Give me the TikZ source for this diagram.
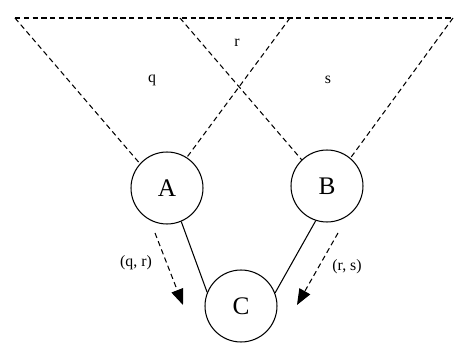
\documentclass[tikz,border=0pt]{standalone}
\usepackage{fontspec}
\setmainfont{Liberation Serif}
\usetikzlibrary{arrows.meta}
\begin{document}
\begin{tikzpicture}[
      x=0.02cm, y=-0.02cm,
      every node/.style={font=\small},
      agent/.style={draw, circle, minimum size=1.44cm, inner sep=0pt,
        font=\Large, line width=0.6pt},
      field/.style={dashed, dash pattern=on 3pt off 2pt, line width=0.6pt},
      link/.style={line width=0.6pt},
      pass/.style={dashed, dash pattern=on 3pt off 2pt, line width=0.6pt,
        -{Triangle[length=9pt,width=7pt]}},
    ]
    \useasboundingbox (0,0) rectangle (454,344);
    \node[agent] (A) at (167, 188) {A};
    \node[agent] (B) at (327, 186) {B};
    \node[agent] (C) at (241, 306) {C};

    % corners of the two fields
    \coordinate (aL) at (15, 18);
    \coordinate (bL) at (180, 18);
    \coordinate (aR) at (290, 18);
    \coordinate (bR) at (453, 18);

    \draw[field] (aL) -- (bR);
    \draw[field] (aL) -- (A.138);
    \draw[field] (aR) -- (A.57);
    \draw[field] (bL) -- (B.134);
    \draw[field] (bR) -- (B.50);

    \node (q) at (152, 80) {q};
    \node (r) at (237, 43) {r};
    \node (s) at (328, 80) {s};

    \draw[link] (A.-67) -- (C.158);
    \draw[link] (B.-108) -- (C.21);

    \coordinate (qrS) at (155, 233);
    \coordinate (qrE) at (183, 305);
    \coordinate (rsS) at (338, 233);
    \coordinate (rsE) at (297, 305);
    \draw[pass] (qrS) -- (qrE);
    \draw[pass] (rsS) -- (rsE);
    \node (qr) at (136, 263) {(q, r)};
    \node (rs) at (347, 267) {(r, s)};
  \end{tikzpicture}
\end{document}
